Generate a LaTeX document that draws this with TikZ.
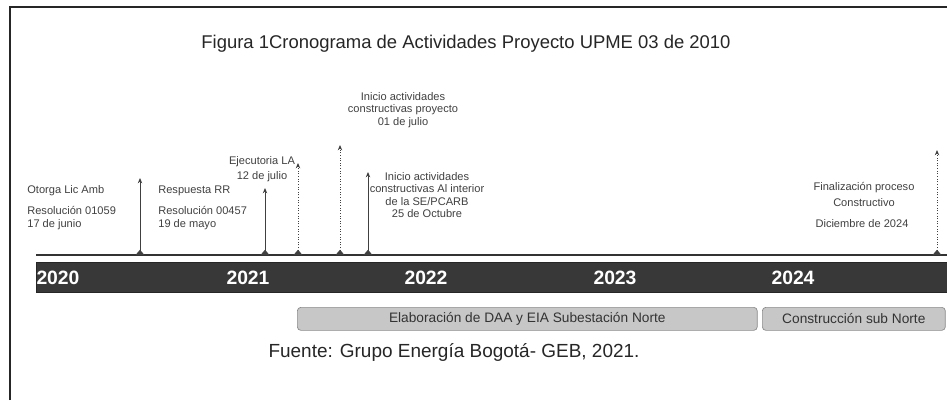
\documentclass[tikz,border=0pt]{standalone}
\usepackage{fontspec}
\setmainfont{Liberation Sans}
\usetikzlibrary{arrows.meta, positioning, shapes.geometric}

\tikzstyle{hito} = [font=\fontsize{6.3}{7}\selectfont, inner sep=0pt, text=black!75]
\tikzstyle{anio} = [font=\fontsize{11}{12}\selectfont\bfseries, text=white, inner sep=0pt]
\tikzstyle{titulo} = [font=\fontsize{10.5}{12}\selectfont, inner sep=0pt, text=black!85]
\tikzset{
    marca/.style={
        line width=0.5pt, black!75, {Triangle[width=5pt,length=3pt,reversed]}-{Stealth[length=3pt,width=2.5pt]}
    },
    marcapunteada/.style={
        marca, densely dotted
    },
    barra/.style={
        rectangle, draw=black!85, fill=black!78, minimum width=18.22cm, minimum height=0.6cm, inner sep=0pt
    },
    fase/.style={
        rectangle, rounded corners=2pt, draw=black!45, fill=black!22, minimum height=0.46cm, inner sep=0pt,
        font=\fontsize{7.8}{9}\selectfont, text=black!80
    }
}

\begin{document}
\begin{tikzpicture}[x=0.02cm, y=-0.02cm, >=Stealth]

    % Marco
    \useasboundingbox (0,0) rectangle (947,400);
    \coordinate (marcoA) at (10,400);
    \coordinate (marcoB) at (10,7);
    \coordinate (marcoC) at (947,7);
    \draw[black!85, line width=0.8pt] (marcoA) -- (marcoB) -- (marcoC);

    % Titulo
    \node[titulo] (titulo) at (466,44) {Figura 1Cronograma de Actividades Proyecto UPME 03 de 2010};

    % Linea de tiempo
    \coordinate (lineaA) at (36,255);
    \coordinate (lineaB) at (947,255);
    \draw[black!80, line width=1.2pt] (lineaA) -- (lineaB);
    \node[barra, anchor=north west] (barra) at (36,262) {};

    % Anios
    \foreach \x/\a in {58/2020, 248/2021, 426/2022, 615/2023, 793/2024}
        \node[anio] (a\a) at (\x,278) {\a};

    % Hitos
    \foreach \n/\x/\y/\s in {1/140/178/marca, 2/265/188/marca, 3/298/163/marcapunteada,
                             4/340/145/marcapunteada, 5/368/172/marca, 6/937/150/marcapunteada} {
        \coordinate (base\n) at (\x,255);
        \coordinate (tope\n) at (\x,\y);
        \draw[\s] (base\n) -- (tope\n);
    }

    % Textos de los hitos
    \node[hito, anchor=west] (lic) at (27,191) {Otorga Lic Amb};
    \node[hito, anchor=west] (lic2) at (27,210) {Resolución 01059};
    \node[hito, below=0.1cm of lic2.south west, anchor=north west] (lic3) {17 de junio};

    \node[hito, anchor=west] (rr) at (158,191) {Respuesta RR};
    \node[hito, anchor=west] (rr2) at (158,210) {Resolución 00457};
    \node[hito, below=0.1cm of rr2.south west, anchor=north west] (rr3) {19 de mayo};

    \node[hito] (eje) at (262,162) {Ejecutoria LA};
    \node[hito, below=0.08cm of eje] (eje2) {12 de julio};

    \node[hito, align=center] (inicio) at (403,110) {Inicio actividades\\constructivas proyecto\\01 de julio};

    \node[hito, align=center] (interior) at (427,195) {Inicio actividades\\constructivas Al interior\\de la SE/PCARB\\25 de Octubre};

    \node[hito] (fin) at (864,188) {Finalización proceso};
    \node[hito, below=0.1cm of fin] (fin2) {Constructivo};
    \node[hito] (fin3) at (862,224) {Diciembre de 2024};

    % Fases
    \node[fase, minimum width=9.2cm, anchor=north west] (daa) at (297,307) {Elaboración de DAA y EIA Subestación Norte};
    \node[fase, minimum width=3.66cm, anchor=north west] (sub) at (762,307) {Construcción sub Norte};

    % Fuente
    \node[titulo, font=\fontsize{10.8}{13}\selectfont] (fuente) at (454,352) {Fuente: Grupo Energía Bogotá- GEB, 2021.};

\end{tikzpicture}
\end{document}
